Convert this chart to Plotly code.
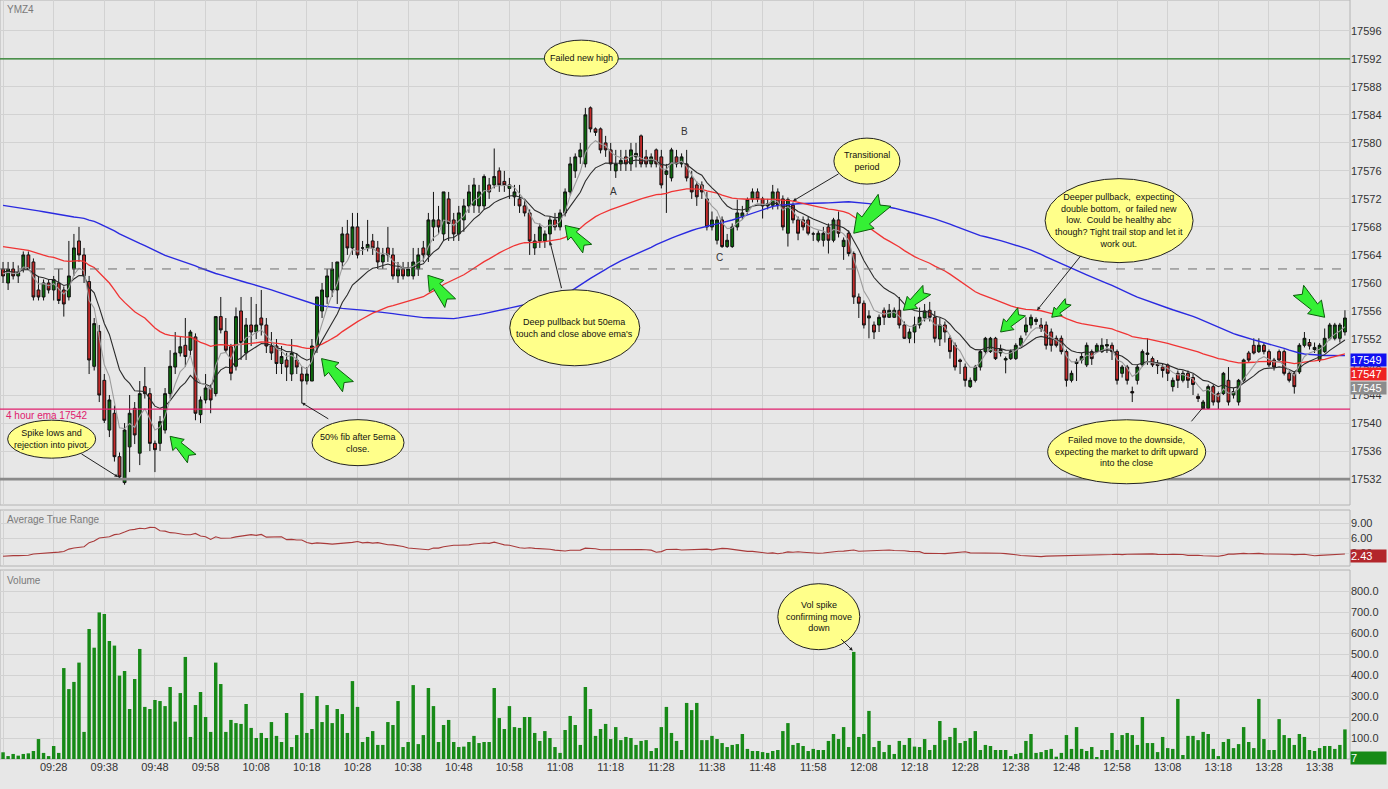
import pandas as pd
import plotly.graph_objects as go

# one-minute bars of YMZ4, first bar 09:18
symbol = "YMZ4"
session_start = "2014-11-21 09:18"

opens = [
    17562, 17560, 17562, 17561, 17562, 17564, 17563, 17559, 17558, 17560,
    17559, 17560, 17559, 17558, 17562, 17566, 17564, 17560.2, 17548.1, 17553.1,
    17546.1, 17539, 17541.4, 17535.2, 17531.5, 17536.6, 17542.1, 17535.7, 17545.2, 17544.2,
    17537.1, 17537.1, 17539, 17544.2, 17548, 17550, 17551.1, 17550.4, 17552.3, 17541.2,
    17543.3, 17545, 17544.2, 17555.2, 17553.1, 17550.9, 17548.1, 17556, 17550, 17554,
    17553, 17555, 17554, 17551, 17551, 17548.5, 17549, 17547, 17549, 17547,
    17546, 17546, 17551, 17556, 17558, 17559, 17559, 17563, 17567, 17565,
    17568, 17565, 17565, 17566, 17565, 17563, 17565, 17564, 17561, 17562,
    17561, 17561, 17562, 17565, 17564, 17568, 17569, 17567, 17572, 17569,
    17567, 17569, 17571, 17571.1, 17571, 17571, 17574, 17574, 17576, 17574.5,
    17573.5, 17572.3, 17572, 17571, 17570, 17565, 17566, 17566, 17567, 17569,
    17568, 17570, 17573, 17576, 17578, 17577, 17585, 17582, 17582, 17580,
    17579, 17576, 17577, 17578, 17577, 17578, 17581, 17578, 17577, 17579,
    17578, 17575.5, 17575, 17578, 17577, 17577, 17575, 17574, 17574, 17572,
    17568, 17566.1, 17569, 17565.2, 17565.2, 17568, 17569.5, 17570.2, 17572, 17573,
    17572, 17571, 17571.1, 17573, 17572, 17567.1, 17571.1, 17569, 17569, 17569,
    17567, 17566.1, 17566.1, 17568, 17566.1, 17569, 17565.2, 17567.1, 17564.2, 17558,
    17557.1, 17555, 17554, 17554, 17556.1, 17555.1, 17555.1, 17556.1, 17554, 17552.1,
    17553, 17554, 17555, 17556.1, 17555.1, 17552, 17554, 17552.1, 17551.1, 17549,
    17548, 17545.2, 17546.1, 17548, 17550.2, 17550.2, 17552.1, 17550, 17549, 17549.2,
    17549.2, 17551.1, 17553, 17554, 17554.5, 17554, 17554, 17553, 17552.1, 17552.1,
    17550.2, 17546.1, 17548.5, 17549, 17548.3, 17550.2, 17550.2, 17550.2, 17551, 17551.1,
    17550.2, 17547.1, 17548, 17544.5, 17546.1, 17548.3, 17549.8, 17549.2, 17548.5, 17548,
    17548.3, 17545.2, 17547.1, 17546.1, 17547.1, 17546.5, 17543.8, 17542.1, 17542.1, 17545.2,
    17544.2, 17544.2, 17546.1, 17544, 17543, 17546.1, 17550, 17551.1, 17550.2, 17551.1,
    17550.2, 17549, 17550.2, 17550.2, 17547.1, 17547.1, 17547.3, 17551.1, 17551.5, 17550.5,
    17549, 17550.2, 17552.1, 17552.1, 17552.1, 17553,
]
highs = [
    17563, 17563, 17563, 17562.5, 17564.5, 17564.5, 17563.5, 17561, 17560.5, 17560.5,
    17561, 17562, 17559.5, 17566, 17567, 17568, 17565, 17561, 17555, 17554,
    17547, 17544, 17542.5, 17535.8, 17540, 17544, 17543, 17546, 17548, 17545,
    17537.5, 17541, 17545, 17550.4, 17553, 17552.3, 17555, 17553.3, 17552.8, 17543.8,
    17547, 17545.5, 17555.2, 17558, 17555, 17551.3, 17556.5, 17558, 17555, 17558,
    17557, 17559, 17555, 17553, 17552, 17551, 17550, 17552, 17550, 17548,
    17548, 17552, 17558, 17560, 17562, 17563, 17563, 17568, 17569, 17570,
    17570, 17566, 17569, 17567, 17566, 17565, 17568, 17565, 17563, 17563,
    17563, 17565, 17565, 17566, 17570, 17573, 17571, 17573, 17573, 17570,
    17571, 17572, 17574, 17575, 17574, 17575.5, 17575, 17579.2, 17576.5, 17576,
    17575, 17574, 17574, 17572, 17570.5, 17567, 17568.5, 17567.5, 17569.5, 17570,
    17570.5, 17573.5, 17578, 17578.5, 17580, 17585, 17585.2, 17582.2, 17582.2, 17581,
    17580, 17579, 17579, 17579, 17580, 17580, 17581.2, 17579, 17578.5, 17579.2,
    17579, 17577, 17579.3, 17579, 17578.5, 17579, 17576, 17574.5, 17574.5, 17573,
    17570.2, 17569.5, 17569.5, 17567, 17568.5, 17571.9, 17571, 17572.2, 17573.5, 17573.5,
    17572.3, 17572, 17574, 17573.5, 17572.5, 17572.2, 17571.5, 17569.5, 17569.5, 17569.5,
    17567.3, 17567.5, 17568, 17568.5, 17569.3, 17570.2, 17566.5, 17567.5, 17564.5, 17558.5,
    17557.5, 17556.1, 17554.5, 17555.5, 17556.5, 17557, 17556.5, 17558, 17554.5, 17553.5,
    17555.2, 17556.5, 17557, 17557.3, 17556, 17555, 17554.5, 17552.5, 17551.5, 17549.2,
    17548.5, 17546.5, 17548.3, 17550.5, 17552.3, 17552.3, 17552.3, 17551.2, 17549.5, 17550.5,
    17551.4, 17552.5, 17555.1, 17555.5, 17555.1, 17555, 17554.5, 17553.5, 17552.5, 17552.5,
    17550.5, 17547.5, 17549.2, 17550, 17551.5, 17550.5, 17551.4, 17552.1, 17552, 17551.5,
    17550.5, 17548.3, 17548.3, 17545.2, 17548.3, 17550.5, 17552.1, 17549.5, 17549, 17548.5,
    17548.5, 17546.5, 17547.5, 17547.5, 17547.5, 17547, 17544.2, 17543.3, 17545.5, 17545.5,
    17544.5, 17547.3, 17548, 17545, 17546.3, 17549.2, 17550.3, 17552.1, 17552.1, 17551.4,
    17550.5, 17549.3, 17550.5, 17550.5, 17547.4, 17547.4, 17551.4, 17553, 17552, 17551.5,
    17551.4, 17553.5, 17554.3, 17554.3, 17554.3, 17556.1,
]
lows = [
    17560, 17559, 17560.5, 17560, 17561.5, 17562, 17557.5, 17557.5, 17557.5, 17558.5,
    17557.5, 17557, 17555.2, 17557.5, 17561, 17563, 17560, 17547, 17547.5, 17543,
    17540, 17538, 17534.5, 17532, 17531.2, 17533, 17537, 17534, 17543.5, 17536,
    17533, 17536, 17538.5, 17543.5, 17547, 17549.5, 17548, 17549.5, 17540.4, 17540,
    17542.8, 17541.4, 17543.8, 17552.8, 17550, 17546.1, 17547.5, 17549, 17549, 17551,
    17552, 17552.5, 17550, 17549, 17547, 17547, 17546, 17546, 17547, 17542.8,
    17545.5, 17546, 17550, 17555, 17557, 17558, 17557, 17562, 17564, 17564,
    17563.5, 17564, 17564.5, 17564, 17562, 17562, 17563, 17560.5, 17560, 17560.5,
    17561, 17560.5, 17561, 17563, 17563, 17566, 17567, 17566, 17566, 17566,
    17566, 17567.3, 17570, 17570, 17570, 17570.5, 17572, 17573.5, 17573, 17573,
    17572, 17571, 17570, 17569.5, 17564, 17564, 17565, 17565, 17565.5, 17567.5,
    17567.5, 17569.5, 17572.5, 17575, 17577, 17576.5, 17581.5, 17581, 17578.5, 17578,
    17576, 17575, 17576, 17576, 17576, 17576.5, 17576.5, 17576.5, 17576.5, 17576.5,
    17573.5, 17570, 17574.5, 17576.5, 17576.5, 17574.5, 17572, 17571, 17572, 17567.5,
    17567.5, 17565.5, 17565, 17565, 17565, 17567.5, 17569, 17569.8, 17571.5, 17571.5,
    17569.2, 17570.5, 17570.5, 17570.5, 17567.5, 17565.2, 17568.5, 17566.1, 17567.5, 17566.8,
    17566, 17565.8, 17565.2, 17564.2, 17565.8, 17566.5, 17563.3, 17563.8, 17557, 17555,
    17553.5, 17552.1, 17552, 17553, 17554, 17555, 17555, 17553.5, 17552, 17551.4,
    17551.4, 17553.5, 17554.5, 17554.5, 17551.5, 17551, 17551.5, 17549.2, 17547.5, 17547,
    17545.2, 17545, 17545.8, 17547.5, 17549.8, 17550, 17549, 17549.5, 17547.1, 17549,
    17549, 17550.8, 17552.5, 17553.5, 17554, 17553, 17550.5, 17550.2, 17550.8, 17549.8,
    17545.2, 17545.8, 17546, 17548.5, 17548, 17548.3, 17550, 17550, 17550, 17549,
    17545.5, 17546.5, 17545.5, 17543, 17545.5, 17548, 17548.3, 17548, 17547, 17546.5,
    17546, 17544.5, 17545, 17545.8, 17545, 17544, 17543, 17542, 17542, 17542.5,
    17542, 17544, 17542.5, 17543.5, 17542.5, 17545.8, 17548.7, 17549.8, 17550, 17549.8,
    17548, 17547.5, 17548.7, 17546.8, 17545.8, 17544.2, 17547, 17550.8, 17550.5, 17550,
    17548.7, 17550, 17551.8, 17551.8, 17551.5, 17552.5,
]
closes = [
    17561, 17562, 17561, 17561.5, 17564, 17562, 17558, 17558, 17560, 17559,
    17560.5, 17557.5, 17557, 17561, 17565, 17564, 17561, 17549, 17554.2, 17544,
    17540.4, 17543.3, 17535.2, 17532.3, 17539, 17541.4, 17538.3, 17544.2, 17544.2, 17537.1,
    17536.2, 17540.2, 17544.2, 17548.1, 17550, 17550.9, 17549.5, 17553, 17541.4, 17543.3,
    17545, 17543.3, 17555.2, 17553.3, 17550.4, 17547.1, 17555.2, 17551.5, 17554, 17553,
    17554, 17554, 17551, 17550, 17548.5, 17549.5, 17548, 17550, 17548, 17546,
    17547, 17551, 17558, 17559, 17561, 17562, 17563, 17567, 17565, 17568,
    17564, 17565, 17565.5, 17565, 17563, 17564, 17564, 17561, 17562, 17561,
    17562, 17563, 17564, 17564, 17569, 17569, 17568, 17573, 17568.5, 17567,
    17570, 17571, 17573, 17574, 17573, 17575.2, 17573, 17575.2, 17574, 17574,
    17574, 17573, 17571, 17570, 17566, 17566, 17568, 17567, 17569, 17568,
    17570, 17573, 17577, 17578, 17579, 17584, 17582, 17581.5, 17579, 17579,
    17577, 17577, 17577.5, 17577, 17579, 17578.5, 17577, 17577, 17578, 17577,
    17574, 17576, 17579, 17577, 17578, 17575, 17573, 17572.3, 17573, 17568,
    17569, 17569, 17565.2, 17566.1, 17568, 17570, 17570, 17571.9, 17573, 17572,
    17571, 17571.3, 17573, 17571.1, 17568, 17571.9, 17569, 17567.1, 17568, 17567.1,
    17567, 17567.1, 17567.1, 17566.1, 17569, 17567.1, 17566.1, 17564.2, 17558, 17557.1,
    17554, 17555.3, 17553, 17555.1, 17555.1, 17556.1, 17556.1, 17554, 17552.1, 17553,
    17554, 17555.1, 17556, 17555.1, 17552.1, 17554, 17553, 17550.2, 17548, 17548.8,
    17546.1, 17546.1, 17548, 17550.2, 17552.1, 17552.1, 17549.2, 17550.5, 17549.2, 17550.2,
    17551.1, 17552.1, 17554, 17555.1, 17554.8, 17553.5, 17551.1, 17551.1, 17551.1, 17550.2,
    17546.1, 17547.1, 17548.8, 17549.5, 17551.1, 17549.2, 17551.1, 17551.1, 17551.2, 17550.2,
    17546.1, 17548, 17546.1, 17544.3, 17548, 17550.2, 17550, 17548.3, 17548.2, 17547.5,
    17547.1, 17546.1, 17546.1, 17547.1, 17546.1, 17545.5, 17543.5, 17543, 17545.2, 17543,
    17543, 17547.1, 17543, 17544.5, 17546.1, 17549, 17549, 17550, 17551.1, 17550.2,
    17548.3, 17548, 17549, 17547.1, 17546.1, 17545.2, 17551.1, 17552.1, 17551, 17550.8,
    17551.1, 17552.1, 17554, 17554, 17554, 17555,
]
volumes = [
    32, 14, 24, 16, 24, 27, 38, 95, 29, 14,
    62, 29, 433, 333, 367, 459, 129, 619, 530, 698,
    690, 562, 540, 397, 419, 238, 381, 524, 248, 238,
    281, 276, 252, 343, 178, 314, 486, 105, 257, 319,
    200, 129, 459, 357, 129, 186, 171, 167, 262, 148,
    100, 124, 100, 176, 110, 81, 219, 57, 114, 314,
    124, 143, 300, 176, 257, 171, 238, 214, 124, 371,
    248, 81, 105, 133, 67, 67, 176, 162, 276, 57,
    81, 352, 71, 114, 338, 252, 81, 162, 186, 81,
    57, 59, 81, 110, 76, 81, 81, 338, 195, 143,
    252, 152, 148, 200, 200, 124, 86, 133, 100, 57,
    29, 138, 205, 162, 67, 343, 238, 110, 143, 167,
    95, 152, 90, 105, 100, 67, 86, 90, 38, 52,
    152, 248, 124, 86, 43, 267, 233, 267, 90, 90,
    110, 95, 76, 57, 67, 71, 119, 48, 38, 38,
    33, 29, 38, 43, 133, 171, 67, 76, 62, 38,
    48, 43, 43, 86, 119, 95, 152, 57, 510, 105,
    119, 229, 57, 86, 33, 67, 24, 86, 67, 100,
    59, 57, 95, 43, 67, 181, 90, 105, 148, 76,
    86, 100, 133, 43, 67, 62, 43, 43, 43, 14,
    24, 29, 86, 119, 29, 33, 43, 48, 11, 29,
    114, 48, 152, 48, 38, 57, 5, 43, 43, 124,
    43, 114, 124, 114, 67, 200, 76, 76, 33, 105,
    52, 48, 286, 19, 110, 110, 90, 129, 119, 48,
    14, 81, 95, 52, 71, 152, 81, 52, 286, 95,
    43, 43, 190, 114, 100, 67, 119, 105, 43, 38,
    52, 62, 62, 48, 67, 141,
]

price_ticks = list(range(17532, 17597, 4))
atr_ticks = [3, 6, 9]
volume_ticks = [100, 200, 300, 400, 500, 600, 700, 800]

# horizontal levels drawn on the price panel
failed_high_level = 17592
dashed_level = 17562
ema_4h_level = 17542
spike_low_level = 17532

# slow blue average: simple average, level of the bars before the session start
sma_period = 90
sma_prior = 17571.2
sma_style = ("#2a2ae0", 1.4)

# exponential averages: period, value at the first bar, colour, width
ema_specs = [
    (50, 17565.2, "#f03434", 1.3),
    (13, 17561.6, "#2b2b2b", 1.1),
    (5, 17561.3, "#9c9c9c", 1.1),
]
atr_period = 14
atr_prior = 2.36

# last-value boxes at the right edge
last_price_boxes = [(17549, "#1010f0"), (17547, "#ee2222"), (17545, "#8c8c8c")]
last_atr = 2.43
last_volume = 7

# callouts: text, centre (bar, value), panel, size px, pointer tip (bar, value), pointer start offset px
callouts = [
    ("Failed new high", 114.2, 17592.1, "y", 74, 36, None, None, 0, 0),
    ("Spike lows and<br>rejection into pivot.", 9.6, 17537.7, "y", 88, 38, 22.7, 17532.3, -38, -24),
    ("50% fib after 5ema<br>close.", 70.1, 17537.2, "y", 92, 46, 59.0, 17542.9, 28, 17),
    ("Deep pullback but 50ema<br>touch and close above ema's", 112.9, 17553.6, "y", 130, 76,
     108.0, 17565.9, 12, 48),
    ("Transitional<br>period", 170.6, 17577.4, "y", 66, 46, 156.0, 17571.7, 47, -28),
    ("Deeper pullback,  expecting<br>double bottom,  or failed new<br>low.  Could be healthy abc<br>"
     "though? Tight trail stop and let it<br>work out.", 220.4, 17568.9, "y", 148, 84,
     204.2, 17556.1, 45, -56),
    ("Failed move to the downside,<br>expecting the market to drift upward<br>into the close",
     221.9, 17535.9, "y", 158, 64, 237.4, 17542.6, -15, 18),
    ("Vol spike<br>confirming move<br>down", 161.1, 677.6, "y3", 82, 66, 167.8, 515.7, -13, -13),
]

# green block arrows: tip (bar, price), pointing direction on screen (dx, dy down), length px
block_arrows = [
    (33.0, 17538.1, -23.3, -24.0, 33),
    (62.9, 17549.2, -28.3, -30.0, 41),
    (83.9, 17561.1, -24.0, -30.0, 38),
    (111.0, 17568.2, -23.3, -24.3, 34),
    (168.0, 17567.1, -32.7, 35.0, 48),
    (177.8, 17556.1, -25.0, 21.7, 33),
    (197.0, 17553.0, -22.6, 21.7, 31),
    (207.1, 17555.1, -17.6, 16.6, 24),
    (261.0, 17555.1, 28.3, 29.0, 40),
]

wave_labels = [("A", 120.5, 17573.1), ("B", 134.5, 17581.6), ("C", 141.4, 17563.7)]


def at(bar):
    return pd.Timestamp(session_start) + pd.Timedelta(minutes=bar)


def ema(values, period, first):
    a = 2.0 / (period + 1)
    out = [first]
    for v in values[1:]:
        out.append(out[-1] + a * (v - out[-1]))
    return out


def sma(values, period, prior):
    window = [prior] * (period - 1)
    out = []
    for v in values:
        window.append(v)
        window = window[-period:]
        out.append(sum(window) / period)
    return out


def atr(h, l, c, period, prior):
    tr = []
    for i in range(len(c)):
        if i == 0:
            tr.append(h[i] - l[i])
        else:
            tr.append(max(h[i] - l[i], abs(h[i] - c[i - 1]), abs(l[i] - c[i - 1])))
    return sma(tr, period, prior)


def arrow_path(dx, dy, length):
    # arrow drawn along +u, tip at origin; pixel y goes up
    n = (dx ** 2 + dy ** 2) ** 0.5
    ux, uy = dx / n, -dy / n
    vx, vy = -uy, ux
    s = length / 33.0
    pts = [(0, 0), (-12, 8), (-12, 3.5), (-31, 6), (-26.5, 0), (-31, -6), (-12, -3.5), (-12, -8)]
    xy = [((u * ux + v * vx) * s, (u * uy + v * vy) * s) for u, v in pts]
    return "M " + " L ".join(f"{x:.2f},{y:.2f}" for x, y in xy) + " Z"


highs = [max(h, o, c) for h, o, c in zip(highs, opens, closes)]
lows = [min(l, o, c) for l, o, c in zip(lows, opens, closes)]
times = pd.date_range(session_start, periods=len(closes), freq="min")

font = "Liberation Sans, Arial, sans-serif"
grid = "#d2d2d2"
bg = "#e7e7e7"

fig = go.Figure()

fig.add_trace(go.Candlestick(
    x=times, open=opens, high=highs, low=lows, close=closes,
    increasing=dict(fillcolor="#0b6b0b", line=dict(color="#111111", width=1)),
    decreasing=dict(fillcolor="#c42a2a", line=dict(color="#111111", width=1)),
    whiskerwidth=0, showlegend=False, hoverinfo="skip",
    xaxis="x", yaxis="y",
))

fig.add_trace(go.Scatter(
    x=times, y=sma(closes, sma_period, sma_prior), mode="lines",
    line=dict(color=sma_style[0], width=sma_style[1]), showlegend=False, hoverinfo="skip",
    xaxis="x", yaxis="y",
))
for period, first, colour, width in ema_specs:
    fig.add_trace(go.Scatter(
        x=times, y=ema(closes, period, first), mode="lines",
        line=dict(color=colour, width=width), showlegend=False, hoverinfo="skip",
        xaxis="x", yaxis="y",
    ))

fig.add_trace(go.Scatter(
    x=times, y=atr(highs, lows, closes, atr_period, atr_prior), mode="lines",
    line=dict(color="#a83a3a", width=1.1), showlegend=False, hoverinfo="skip",
    xaxis="x2", yaxis="y2",
))

fig.add_trace(go.Bar(
    x=times, y=volumes, width=0.68 * 60000, marker=dict(color="#178a17", line=dict(width=0)),
    showlegend=False, hoverinfo="skip", xaxis="x3", yaxis="y3",
))

shapes = []
for level, colour, width, dash in [
    (failed_high_level, "#1f7a1f", 1.2, "solid"),
    (dashed_level, "#6e6e6e", 1, "dash"),
    (ema_4h_level, "#e0206e", 1.2, "solid"),
    (spike_low_level, "#8a8a8a", 2.6, "solid"),
]:
    shapes.append(dict(type="line", xref="paper", yref="y", x0=0, x1=1, y0=level, y1=level,
                       line=dict(color=colour, width=width, dash=dash), layer="above"))

for bar, price, dx, dy, length in block_arrows:
    shapes.append(dict(type="path", xref="x", yref="y", xsizemode="pixel", ysizemode="pixel",
                       xanchor=at(bar), yanchor=price, path=arrow_path(dx, dy, length),
                       fillcolor="#35f035", line=dict(color="#0c5c0c", width=1), layer="above"))

annotations = []
for text, bar, value, yref, w, h, tip_bar, tip_value, ax, ay in callouts:
    if tip_bar is not None:
        annotations.append(dict(x=at(tip_bar), y=tip_value, xref="x", yref=yref, text="",
                                showarrow=True, ax=ax, ay=ay, arrowhead=2, arrowsize=0.7,
                                arrowwidth=1, arrowcolor="#222222", standoff=0))
    shapes.append(dict(type="circle", xref="x", yref=yref, xsizemode="pixel", ysizemode="pixel",
                       xanchor=at(bar), yanchor=value, x0=-w / 2, x1=w / 2, y0=-h / 2, y1=h / 2,
                       fillcolor="#ffff8a", line=dict(color="#222222", width=1), layer="above"))
    annotations.append(dict(x=at(bar), y=value, xref="x", yref=yref, text=text, showarrow=False,
                            font=dict(family=font, size=9, color="#111111"), align="center"))

for text, bar, price in wave_labels:
    annotations.append(dict(x=at(bar), y=price, xref="x", yref="y", text=text, showarrow=False,
                            font=dict(family=font, size=10, color="#333333")))

for text, y in [(symbol, 749), ("Average True Range", 240), ("Volume", 179)]:
    annotations.append(dict(x=0.004, y=y / 759, xref="paper", yref="paper", text=text,
                            showarrow=False, xanchor="left", yanchor="middle",
                            font=dict(family=font, size=10, color="#7a7a7a")))

annotations.append(dict(x=0.003, y=ema_4h_level, xref="paper", yref="y",
                        text=f"4 hour ema {ema_4h_level}", showarrow=False,
                        xanchor="left", yanchor="top", yshift=1,
                        font=dict(family=font, size=10, color="#e0206e")))

for value, colour in last_price_boxes:
    annotations.append(dict(x=1, y=value, xref="paper", yref="y", text=str(value),
                            showarrow=False, xanchor="left", yanchor="middle", align="left",
                            bgcolor=colour, width=35, borderpad=0,
                            font=dict(family=font, size=11, color="white")))
annotations.append(dict(x=1, y=last_atr, xref="paper", yref="y2", text=f"{last_atr:.2f}",
                        showarrow=False, xanchor="left", yanchor="middle", align="left",
                        bgcolor="#b3262b", width=35, borderpad=0,
                        font=dict(family=font, size=11, color="white")))
annotations.append(dict(x=1, y=last_volume, xref="paper", yref="y3", text=str(last_volume),
                        showarrow=False, xanchor="left", yanchor="middle", align="left",
                        bgcolor="#178a17", width=35, borderpad=0,
                        font=dict(family=font, size=11, color="white")))

# panel borders
for top, bottom in [(0, 505), (510, 566), (570, 759)]:
    shapes.append(dict(type="rect", xref="paper", yref="paper", x0=0, x1=1,
                       y0=(759 - bottom) / 759, y1=(759 - top) / 759,
                       line=dict(color="#b4b4b4", width=1), layer="below"))

x_range = [at(-0.6), at(266.0)]
xcommon = dict(type="date", range=x_range, showgrid=True, gridcolor=grid, gridwidth=1,
               dtick=600000, tick0=at(10), zeroline=False, showline=False,
               tickformat="%H:%M", ticks="", tickfont=dict(family=font, size=11, color="#333333"))
ycommon = dict(side="right", showgrid=True, gridcolor=grid, gridwidth=1, zeroline=False,
               ticks="", showline=False, tickfont=dict(family=font, size=11, color="#333333"))

fig.update_layout(
    width=1388, height=789,
    margin=dict(l=0, r=38, t=0, b=30),
    paper_bgcolor=bg, plot_bgcolor=bg,
    showlegend=False, boxgap=0.2, bargap=0.3,
    xaxis=dict(xcommon, anchor="y", showticklabels=False, rangeslider=dict(visible=False)),
    xaxis2=dict(xcommon, anchor="y2", matches="x", showticklabels=False),
    xaxis3=dict(xcommon, anchor="y3", matches="x", showticklabels=True),
    yaxis=dict(ycommon, domain=[(759 - 505) / 759, 1], range=[17528.3, 17600.4],
               tickvals=price_ticks, tickformat="d"),
    yaxis2=dict(ycommon, domain=[(759 - 566) / 759, (759 - 510) / 759], range=[0.46, 11.66],
                tickvals=atr_ticks, ticktext=[f"{v:.2f}" for v in atr_ticks]),
    yaxis3=dict(ycommon, domain=[0, (759 - 570) / 759], range=[0, 900],
                tickvals=volume_ticks, tickformat=".1f"),
    shapes=shapes,
    annotations=annotations,
)

# the page body has a default 8px margin; drop it so the figure fills the window
fig.write_html("out.html", config={"displayModeBar": False},
               post_script="document.body.style.margin='0px';")
